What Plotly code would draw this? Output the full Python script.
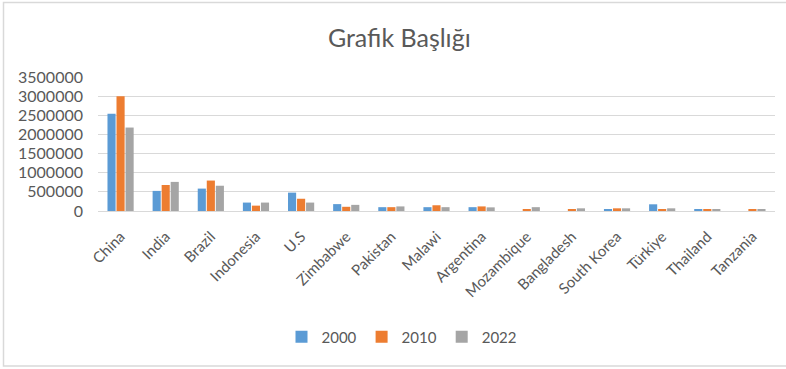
import plotly.graph_objects as go

countries = ["China", "India", "Brazil", "Indonesia", "U.S", "Zimbabwe", "Pakistan",
             "Malawi", "Argentina", "Mozambique", "Bangladesh", "South Korea",
             "Türkiye", "Thailand", "Tanzania"]
y2000 = [2540000, 525000, 585000, 220000, 480000, 180000, 100000,
         100000, 100000, 0, 0, 40000, 175000, 40000, 0]
y2010 = [3000000, 680000, 795000, 140000, 320000, 110000, 100000,
         150000, 120000, 40000, 40000, 70000, 40000, 40000, 40000]
y2022 = [2180000, 760000, 660000, 220000, 220000, 160000, 120000,
         100000, 95000, 100000, 70000, 70000, 70000, 40000, 40000]
years = ["2000", "2010", "2022"]
colors = ["#5B9BD5", "#ED7D31", "#A5A5A5"]
ticks = [0, 500000, 1000000, 1500000, 2000000, 2500000, 3000000, 3500000]

W, H = 786, 369
L, R, T, B = 98, 11, 77, 158
FONT = "Lato, Open Sans, sans-serif"
GREY = "#595959"

fig = go.Figure()
for name, vals, col in zip(years, [y2000, y2010, y2022], colors):
    fig.add_trace(go.Bar(x=countries, y=vals, name=name, marker_color=col,
                         marker_line_width=0))

pw = W - L - R
ph = H - T - B
# outer chart border, in paper coordinates
x0 = (3.5 - L) / pw
x1 = (W + 2 - L) / pw
y0 = (H - 366 - B) / ph
y1 = (H - 2.5 - B) / ph

fig.update_layout(
    width=W, height=H,
    margin=dict(l=L, r=R, t=T, b=B, autoexpand=False),
    paper_bgcolor="white", plot_bgcolor="white",
    barmode="group", bargap=0.4, bargroupgap=0.1,
    font=dict(family=FONT, color=GREY, size=15),
    title=dict(text="Grafik Başlığı", x=0.508, xanchor="center",
               y=1 - 38 / H, yanchor="middle",
               font=dict(size=25, color=GREY, family=FONT)),
    legend=dict(orientation="h", x=(402 - L) / pw, xanchor="center",
                y=(H - 337 - B) / ph, yanchor="middle",
                font=dict(size=15, color=GREY), itemwidth=30,
                traceorder="normal"),
    shapes=[dict(type="rect", xref="paper", yref="paper",
                 x0=x0, x1=x1, y0=y0, y1=y1,
                 line=dict(color="#d9d9d9", width=1.5), layer="below")],
)
fig.update_xaxes(tickangle=-45, showgrid=False, showline=True,
                 linecolor="#d9d9d9", linewidth=1, ticks="",
                 ticklabelstandoff=10,
                 tickfont=dict(size=15, color=GREY))
fig.update_yaxes(range=[0, 3500000], tickvals=ticks,
                 ticktext=[str(t) for t in ticks],
                 showgrid=True, gridcolor="#d9d9d9", gridwidth=1,
                 zeroline=False, showline=False, ticks="",
                 ticklabelstandoff=14,
                 tickfont=dict(size=16, color=GREY))

fig.write_html("out.html")
